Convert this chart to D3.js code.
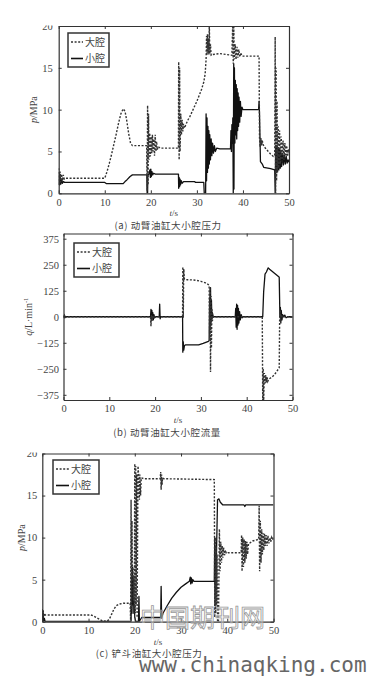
<!DOCTYPE html>
<html>
<head>
<meta charset="utf-8">
<script src="https://cdn.jsdelivr.net/npm/d3@7"></script>
<style>
  html, body { margin: 0; padding: 0; background: #fff; }
  svg { display: block; }
</style>
</head>
<body>
<div id="chart-area"></div>
<script>
// ---- data ----
const xTicks = [0, 10, 20, 30, 40, 50];
const pTicks = [0, 5, 10, 15, 20];
const qTicks = [-375, -250, -125, 0, 125, 250, 375];
const seriesNames = ["大腔", "小腔"];
const captions = ["(a) 动臂油缸大小腔压力", "(b) 动臂油缸大小腔流量", "(c) 铲斗油缸大小腔压力"];

// (a) boom cylinder pressure, [t, p]
const boomBigP = [[0,3.0],[0.15,1.0],[0.3,2.6],[0.45,1.3],[0.6,2.3],[0.8,1.5],[1.0,2.2],[1.2,1.7],[1.5,1.8],[10,1.8],[10.5,2.6],[11,3.6],[11.5,4.7],[12,5.9],[12.5,7.1],[13,8.4],[13.5,9.5],[14,10.1],[14.4,9.8],[14.8,8.6],[15.2,7.1],[15.6,6.0],[16,5.7],[19.1,5.7],[19.2,0.3],[19.3,10.5],[19.4,1.0],[19.5,9.5],[19.6,4.0],[19.75,7.2],[19.9,4.4],[20.05,6.8],[20.2,4.8],[20.35,7.0],[20.5,5.0],[20.65,6.5],[20.8,4.5],[20.95,7.0],[21.1,5.0],[21.25,6.2],[21.4,5.2],[21.6,5.6],[22,5.4],[26,5.4],[26.05,15.7],[26.15,4.0],[26.25,15.0],[26.35,5.0],[26.5,9.5],[26.65,7.0],[26.8,8.8],[26.95,7.4],[27.1,8.3],[27.3,7.8],[27.6,8.2],[28,8.7],[28.5,9.2],[29,9.8],[29.5,10.4],[30,11.0],[30.5,11.7],[31,12.4],[31.5,13.3],[31.8,14.3],[32.0,16.0],[32.1,18.8],[32.2,16.5],[32.3,19.0],[32.4,16.8],[32.5,18.5],[32.6,16.6],[32.7,20.5],[32.8,16.7],[32.95,17.8],[33.1,16.5],[33.5,16.6],[35,16.7],[37.6,16.5],[37.8,20.5],[37.9,15.5],[38.0,20.5],[38.1,16],[38.3,17.8],[38.5,16.0],[38.7,17.5],[38.9,16.2],[39.1,17.2],[39.3,16.3],[39.5,16.8],[39.8,16.4],[43.5,16.4],[43.6,6.6],[43.75,5.5],[43.9,6.6],[44.05,5.7],[44.2,6.3],[44.4,5.8],[44.6,5.6],[45,5.3],[45.5,5.0],[46,4.7],[46.6,4.4],[46.9,4.5],[47.0,18.7],[47.1,0],[47.2,15],[47.3,1.5],[47.4,11],[47.5,2.5],[47.65,8],[47.8,3],[47.95,7.5],[48.1,3.5],[48.3,6.8],[48.5,3.8],[48.7,6.3],[48.9,4],[49.1,6],[49.3,4.2],[49.5,5.7],[49.7,4.4],[49.85,5.3],[50,4.8]];
const boomSmallP = [[0,1.0],[0.1,2.5],[0.2,1.0],[0.3,2.0],[0.45,1.1],[0.6,1.7],[0.8,1.2],[1.0,1.4],[1.3,1.3],[10,1.3],[10.4,1.15],[14,1.15],[14.4,1.4],[14.8,1.6],[15.5,2.0],[16,2.2],[19.15,2.2],[19.2,0],[19.3,0],[19.35,2.2],[19.6,2.3],[19.8,2.8],[19.9,1.9],[20.0,2.9],[20.1,2.0],[20.25,2.6],[20.4,2.2],[20.6,2.4],[21,2.3],[26,2.3],[26.05,0.6],[26.15,1.9],[26.25,0.8],[26.35,1.7],[26.45,1.0],[26.6,1.5],[26.8,1.2],[27.1,1.4],[29.5,1.4],[29.7,1.3],[31.5,1.3],[31.6,0],[31.9,0],[32.0,9.5],[32.1,1.5],[32.2,9.0],[32.3,2.5],[32.4,8.0],[32.5,3.0],[32.6,7.5],[32.7,3.5],[32.8,7.0],[32.95,4.0],[33.1,6.5],[33.25,4.5],[33.4,6.0],[33.6,4.8],[33.8,5.7],[34,5.0],[34.3,5.4],[35,5.3],[37.3,5.3],[37.4,7.5],[37.5,5.0],[37.6,8.2],[37.7,6.0],[37.8,9],[37.9,0],[38.0,15.5],[38.05,0.5],[38.15,15],[38.25,6],[38.35,13.5],[38.45,7],[38.55,13],[38.65,6.5],[38.75,12.5],[38.85,7.5],[38.95,12],[39.05,8],[39.15,11.5],[39.3,8.5],[39.45,11],[39.6,9.2],[39.8,10.3],[40,10],[43.4,10],[43.5,11],[43.6,9.5],[43.8,3.8],[44.2,3.5],[44.5,3.1],[46,2.95],[46.9,2.8],[47.0,0],[47.1,5.5],[47.2,2.5],[47.35,5.6],[47.5,2.6],[47.65,5.5],[47.8,2.8],[47.95,5.3],[48.1,3],[48.25,5],[48.4,3.2],[48.6,4.8],[48.8,3.4],[49,4.6],[49.2,3.5],[49.4,4.4],[49.6,3.6],[49.8,4.0],[50,3.7]];

// (b) boom cylinder flow, [t, q]
const boomBigQ = [[0,0],[0.2,8],[0.4,-3],[0.6,0],[19,0],[19.1,-45],[19.2,10],[19.35,-20],[19.5,5],[19.7,-8],[20,0],[26,0],[26.05,240],[26.15,-5],[26.25,230],[26.4,180],[27,178],[28,177],[29,175],[30,170],[31,163],[31.6,155],[31.8,150],[31.9,-80],[32.0,140],[32.1,-265],[32.2,100],[32.3,-150],[32.4,40],[32.5,-20],[32.7,0],[43.4,0],[43.5,-410],[43.6,-250],[43.7,-410],[43.85,-270],[44,-320],[44.15,-280],[44.3,-315],[44.45,-290],[44.6,-310],[44.8,-300],[45.5,-290],[46,-280],[46.5,-265],[47.1,-245],[47.2,0],[47.3,30],[47.4,-20],[47.6,10],[47.8,-5],[48,0],[50,0]];
const boomSmallQ = [[0,5],[0.15,-5],[0.3,3],[0.5,0],[19,0],[19.1,35],[19.2,-20],[19.3,30],[19.4,-10],[19.5,20],[19.6,-15],[19.75,10],[19.9,-5],[20.1,0],[20.9,0],[21.0,60],[21.1,-10],[21.2,0],[26,0],[26.05,-170],[26.15,-120],[26.25,-160],[26.4,-140],[26.6,-135],[29.5,-135],[30.5,-128],[31.5,-120],[31.8,-115],[31.9,90],[32,-60],[32.1,140],[32.2,-30],[32.3,80],[32.4,-10],[32.5,20],[32.7,0],[37.5,0],[37.6,40],[37.7,-50],[37.8,60],[37.9,-60],[38.0,55],[38.1,-40],[38.2,40],[38.3,-30],[38.45,25],[38.6,-15],[38.8,10],[39,-5],[39.3,0],[43.5,0],[43.7,120],[44,205],[44.3,215],[44.7,235],[45,228],[46,210],[47,192],[47.1,190],[47.25,0],[47.35,45],[47.45,-30],[47.55,30],[47.7,-15],[47.85,10],[48,0],[48.3,8],[48.6,-5],[49,0],[50,0]];

// (c) bucket cylinder pressure, [t, p]
const bucketBigP = [[0,1.5],[0.1,0.4],[0.2,1.4],[0.3,0.6],[0.4,1.0],[0.6,0.8],[10.5,0.8],[11,0.7],[12,0.4],[13,0.1],[14,0.05],[14.5,0.3],[15,0.9],[15.5,1.5],[16,1.9],[16.7,2.1],[17.5,2.2],[19.0,2.2],[19.1,0.2],[19.2,14.5],[19.3,1.5],[19.4,12],[19.5,4.8],[19.6,6.5],[19.7,2.5],[19.8,5.5],[19.9,1.5],[20.0,18.8],[20.1,1.0],[20.2,18.5],[20.3,2.0],[20.4,17.5],[20.5,0.5],[20.7,18.5],[20.9,17],[21.0,14.5],[21.1,17.5],[21.25,15],[21.4,17.1],[22,17.0],[25.5,17.0],[25.6,17.8],[25.7,15.7],[25.8,17.5],[25.9,16.3],[26.0,17.1],[26.3,17.0],[37.2,16.9],[37.3,0.5],[37.4,10],[37.5,1],[37.6,9],[37.7,2],[37.8,8],[37.9,0],[38.1,0],[38.3,11],[38.45,6],[38.6,9.5],[38.75,7],[38.9,9],[39.05,7.6],[39.2,8.8],[39.4,7.9],[39.6,8.5],[39.8,8.1],[40.2,8.2],[43,8.2],[43.1,10.3],[43.2,6],[43.35,10],[43.5,6.5],[43.65,9.8],[43.8,7],[43.95,9.6],[44.1,7.5],[44.25,9.5],[44.4,8],[44.6,9.3],[45,9.4],[45.5,9.6],[46.8,9.8],[46.9,13.8],[47.0,6.0],[47.15,12],[47.3,7],[47.45,11],[47.6,8],[47.75,10.5],[47.9,8.5],[48.05,10.5],[48.2,9],[48.4,10.3],[48.6,9],[48.8,10.2],[49,9.3],[49.2,10],[49.4,9.5],[49.6,10],[49.8,9.7],[50,9.9]];
const bucketSmallP = [[0,1.3],[0.1,0],[0.2,1.0],[0.3,0.1],[0.45,0.4],[0.6,0.05],[19.2,0.05],[19.3,5.5],[19.4,1],[19.5,6.5],[19.6,2],[19.7,5],[19.8,1],[19.9,2],[20.0,0.5],[20.2,0.05],[20.8,0.05],[20.9,3.0],[21.0,0.05],[21.5,0.5],[25.6,0.5],[25.7,4.2],[25.8,0.4],[26.1,1.0],[27,1.9],[28,2.8],[29,3.5],[30,4.1],[31,4.5],[31.8,4.8],[32.0,5.3],[32.1,4.5],[32.25,5.2],[32.4,4.6],[32.55,5.0],[32.8,4.8],[37.2,4.8],[37.3,10],[37.35,2],[37.45,8],[37.55,4],[37.7,9],[37.9,14.5],[38.2,14.6],[38.5,14.2],[39,13.9],[43.6,13.9],[43.8,13.7],[44,13.9],[50,13.9]];

// ---- layout ----
const svgWidth = 368, svgHeight = 676;
const serif = "'Liberation Serif', 'DejaVu Serif', serif";
const cjk = "'Noto Sans CJK SC', sans-serif";
const ink = "#333";

const canvas = d3.select("#chart-area")
  .append("svg")
    .attr("width", svgWidth)
    .attr("height", svgHeight);

const panels = [
  {x0: 58.7, x1: 289, y0: 26, y1: 193.3, yDomain: [0, 20], yTicks: pTicks,
   big: boomBigP, small: boomSmallP, ylabel: "p", yunit: "/MPa", ylabelX: 37,
   legend: {x: 68, y: 33, w: 41, h: 34, lineW: 12}, cutTop: 25.5,
   caption: captions[0], capX: 168, capY: 226, tickGap: 6},
  {x0: 63.5, x1: 292.5, y0: 233.5, y1: 400, yDomain: [-400, 400], yTicks: qTicks,
   big: boomBigQ, small: boomSmallQ, ylabel: "q", yunit: "/L·min", sup: "-1", ylabelX: 32,
   legend: {x: 74, y: 243, w: 45, h: 34, lineW: 13}, cutTop: null,
   caption: captions[1], capX: 167, capY: 433, tickGap: 4.5},
  {x0: 42.3, x1: 273.5, y0: 453.5, y1: 621.7, yDomain: [0, 20], yTicks: pTicks,
   big: bucketBigP, small: bucketSmallP, ylabel: "p", yunit: "/MPa", ylabelX: 25,
   legend: {x: 53, y: 460, w: 46, h: 34, lineW: 13}, cutTop: 452.5,
   caption: captions[2], capX: 149, capY: 654, tickGap: 5}
];

panels.forEach((pn, i) => {
  const x = d3.scaleLinear().domain([0, 50]).range([pn.x0, pn.x1]);
  const y = d3.scaleLinear().domain(pn.yDomain).range([pn.y1, pn.y0]);
  const g = canvas.append("g");

  const clipId = `clip${i}`;
  canvas.append("clipPath").attr("id", clipId)
    .append("rect")
      .attr("x", pn.x0).attr("y", pn.y0)
      .attr("width", pn.x1 - pn.x0).attr("height", pn.y1 - pn.y0);

  const line = d3.line()
    .x(d => x(d[0]))
    .y(d => y(d[1]));

  // small chamber (solid) then big chamber (dotted)
  g.append("path")
    .datum(pn.small)
    .attr("clip-path", `url(#${clipId})`)
    .attr("fill", "none")
    .attr("stroke", "#111")
    .attr("stroke-width", 1.3)
    .attr("stroke-linejoin", "round")
    .attr("d", line);
  g.append("path")
    .datum(pn.big)
    .attr("clip-path", `url(#${clipId})`)
    .attr("fill", "none")
    .attr("stroke", "#333")
    .attr("stroke-width", 1.4)
    .attr("stroke-dasharray", "2,1.6")
    .attr("d", line);

  // axes, MATLAB style: inward ticks on all four sides
  const tick = 3;
  const bottom = g.append("g")
    .attr("transform", `translate(0,${pn.y1})`)
    .call(d3.axisBottom(x).tickValues(xTicks).tickSize(-tick).tickPadding(5).tickSizeOuter(0));
  const top = g.append("g")
    .attr("transform", `translate(0,${pn.y0})`)
    .call(d3.axisTop(x).tickValues(xTicks).tickSize(-tick).tickFormat("").tickSizeOuter(0));
  const yFmt = d => d < 0 ? "\u2212" + Math.abs(d) : d;
  const left = g.append("g")
    .attr("transform", `translate(${pn.x0},0)`)
    .call(d3.axisLeft(y).tickValues(pn.yTicks).tickSize(-tick).tickPadding(pn.tickGap).tickFormat(yFmt).tickSizeOuter(0));
  const right = g.append("g")
    .attr("transform", `translate(${pn.x1},0)`)
    .call(d3.axisRight(y).tickValues(pn.yTicks).tickSize(-tick).tickFormat("").tickSizeOuter(0));
  [bottom, top, left, right].forEach(a => {
    a.select(".domain").attr("stroke", ink).attr("stroke-width", 1.2);
    a.selectAll("line").attr("stroke", ink).attr("stroke-width", 1);
    a.selectAll("text")
      .attr("fill", "#444")
      .attr("font-family", serif)
      .attr("font-size", 10.5);
  });

  // the scanned figure is cropped just above the top tick label
  // (clip rect lives in the left axis group's translated coordinates)
  if (pn.cutTop !== null) {
    const cutId = `cut${i}`;
    canvas.append("clipPath").attr("id", cutId)
      .append("rect")
        .attr("x", -pn.x0).attr("y", pn.cutTop)
        .attr("width", svgWidth).attr("height", pn.y1 - pn.cutTop + 20);
    left.attr("clip-path", `url(#${cutId})`);
  }

  // axis titles
  const xt = g.append("text")
    .attr("x", (pn.x0 + pn.x1) / 2)
    .attr("y", pn.y1 + 23)
    .attr("text-anchor", "middle")
    .attr("font-family", serif)
    .attr("font-size", 9)
    .attr("fill", "#444");
  xt.append("tspan").attr("font-style", "italic").text("t");
  xt.append("tspan").text("/s");

  const yt = g.append("text")
    .attr("transform", `translate(${pn.ylabelX},${(pn.y0 + pn.y1) / 2}) rotate(-90)`)
    .attr("text-anchor", "middle")
    .attr("font-family", serif)
    .attr("font-size", 10)
    .attr("fill", "#444");
  yt.append("tspan").attr("font-style", "italic").text(pn.ylabel);
  yt.append("tspan").text(pn.yunit);
  if (pn.sup) {
    yt.append("tspan").attr("dy", -4).attr("font-size", 6.5).text(pn.sup);
  }

  // legend
  const lg = g.append("g").attr("transform", `translate(${pn.legend.x},${pn.legend.y})`);
  lg.append("rect")
    .attr("width", pn.legend.w).attr("height", pn.legend.h)
    .attr("fill", "#fff").attr("stroke", ink).attr("stroke-width", 1.5);
  seriesNames.forEach((name, k) => {
    const ly = 9 + k * 16.5;
    lg.append("line")
      .attr("x1", 3).attr("x2", 3 + pn.legend.lineW)
      .attr("y1", ly).attr("y2", ly)
      .attr("stroke", k === 0 ? "#333" : "#111")
      .attr("stroke-width", k === 0 ? 1.4 : 1.6)
      .attr("stroke-dasharray", k === 0 ? "2,1.6" : null);
    lg.append("text")
      .attr("x", 5 + pn.legend.lineW)
      .attr("y", ly)
      .attr("dy", "0.35em")
      .attr("font-family", cjk)
      .attr("font-size", 10)
      .attr("fill", "#444")
      .text(name);
  });

  // caption
  g.append("text")
    .attr("x", pn.capX)
    .attr("y", pn.capY)
    .attr("dy", "0.35em")
    .attr("text-anchor", "middle")
    .attr("font-family", cjk)
    .attr("font-size", 9.5)
    .attr("letter-spacing", 0.6)
    .attr("fill", "#444")
    .text(pn.caption);
});

// watermarks
canvas.append("text")
  .attr("x", 140).attr("y", 627)
  .attr("font-family", cjk)
  .attr("font-size", 25)
  .attr("fill", "rgba(255,255,255,0.4)")
  .attr("stroke", "#999")
  .attr("stroke-width", 0.8)
  .text("中国期刊网");
canvas.append("text")
  .attr("x", 139).attr("y", 672)
  .attr("font-family", "'DejaVu Sans Mono', monospace")
  .attr("font-size", 21)
  .attr("fill", "#666")
  .text("www.chinaqking.com");
</script>
</body>
</html>
